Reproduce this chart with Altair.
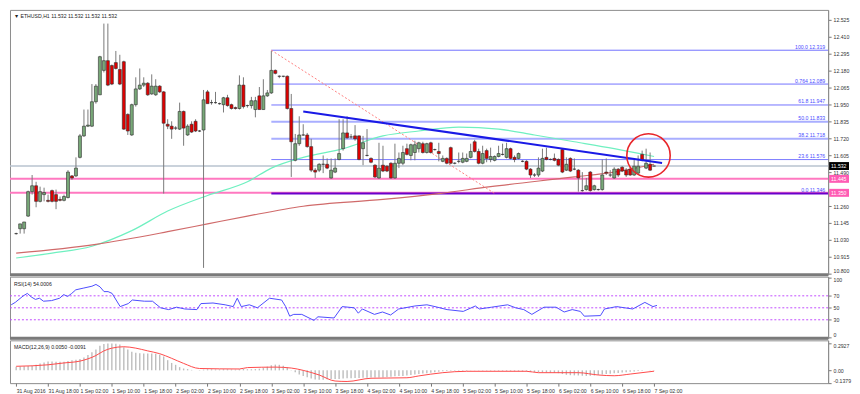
import altair as alt
import pandas as pd

# ---------------- data ----------------
opens = [11.073,11.106,11.106,11.192,11.358,11.398,11.292,11.338,11.299,11.365,
11.338,11.305,11.299,11.318,11.465,11.465,11.591,11.737,11.803,11.803,
11.969,12.016,12.182,12.248,12.215,12.235,12.188,12.241,11.883,11.743,
11.949,12.056,12.082,12.095,12.022,12.016,12.075,12.036,11.816,11.803,
11.790,11.783,11.903,11.743,11.816,11.836,11.770,11.777,12.036,11.963,
11.963,11.956,11.949,11.996,11.949,11.929,11.923,12.082,11.943,11.943,
11.916,12.009,11.916,12.009,12.029,12.182,12.142,12.142,12.142,11.923,
11.571,11.684,11.743,11.743,11.664,11.504,11.504,11.544,11.544,11.451,
11.491,11.577,11.650,11.757,11.730,11.737,11.737,11.650,11.604,11.584,
11.538,11.451,11.538,11.531,11.551,11.451,11.551,11.551,11.650,11.604,
11.624,11.650,11.684,11.624,11.690,11.644,11.631,11.564,11.584,11.657,
11.551,11.564,11.558,11.564,11.591,11.697,11.631,11.551,11.637,11.577,
11.571,11.597,11.611,11.591,11.650,11.591,11.584,11.564,11.564,11.511,
11.471,11.471,11.498,11.591,11.577,11.584,11.577,11.644,11.504,11.584,
11.511,11.504,11.365,11.372,11.491,11.372,11.372,11.372,11.491,11.471,
11.451,11.511,11.524,11.504,11.511,11.471,11.484,11.611,11.518,11.544,
11.532]
highs = [11.079,11.139,11.152,11.365,11.471,11.425,11.392,11.385,11.338,11.372,
11.372,11.325,11.338,11.504,11.471,11.591,11.750,11.916,11.916,12.089,
12.089,12.281,12.500,12.500,12.222,12.314,12.288,12.248,11.890,11.956,
12.135,12.195,12.135,12.102,12.155,12.122,12.082,12.042,11.850,11.836,
11.803,11.963,11.909,11.816,11.836,11.850,11.777,12.049,12.049,11.982,
12.036,11.963,12.002,12.016,11.956,11.936,12.148,12.135,11.949,12.002,
12.002,12.069,12.122,12.049,12.314,12.188,12.148,12.145,12.148,12.022,
11.750,11.870,11.816,11.757,11.717,11.518,11.551,11.604,11.584,11.584,
11.584,11.850,11.850,11.870,11.750,11.810,11.740,11.737,11.783,11.591,
11.544,11.690,11.670,11.538,11.558,11.684,11.624,11.670,11.684,11.684,
11.704,11.697,11.697,11.690,11.697,11.650,11.690,11.604,11.591,11.664,
11.558,11.624,11.624,11.617,11.684,11.710,11.650,11.670,11.650,11.657,
11.604,11.670,11.684,11.690,11.657,11.604,11.624,11.571,11.571,11.518,
11.484,11.591,11.650,11.657,11.584,11.617,11.584,11.650,11.591,11.591,
11.584,11.511,11.491,11.451,11.498,11.405,11.378,11.577,11.584,11.504,
11.524,11.518,11.531,11.518,11.524,11.584,11.604,11.637,11.650,11.624,
11.532]
lows = [11.066,11.073,11.073,11.186,11.338,11.252,11.285,11.292,11.285,11.285,
11.239,11.292,11.292,11.312,11.438,11.458,11.584,11.730,11.797,11.797,
11.956,12.016,12.168,12.075,12.082,12.188,12.082,11.777,11.743,11.737,
11.936,12.049,12.069,12.009,12.016,12.009,12.029,11.345,11.783,11.717,
11.777,11.777,11.670,11.737,11.757,11.763,11.763,10.840,11.956,11.949,
11.956,11.949,11.896,11.936,11.916,11.916,11.916,11.923,11.929,11.923,
11.863,11.916,11.916,12.002,12.022,12.155,12.129,12.135,11.916,11.458,
11.564,11.670,11.737,11.657,11.491,11.451,11.491,11.484,11.511,11.445,
11.484,11.571,11.637,11.717,11.717,11.704,11.571,11.538,11.597,11.551,
11.451,11.445,11.491,11.491,11.445,11.445,11.518,11.538,11.604,11.571,
11.571,11.624,11.617,11.617,11.617,11.637,11.564,11.558,11.544,11.544,
11.544,11.551,11.551,11.558,11.584,11.624,11.544,11.544,11.558,11.558,
11.564,11.591,11.604,11.584,11.577,11.558,11.577,11.558,11.504,11.451,
11.458,11.458,11.491,11.571,11.571,11.564,11.531,11.484,11.498,11.491,
11.504,11.358,11.358,11.365,11.358,11.365,11.365,11.365,11.471,11.458,
11.445,11.458,11.491,11.458,11.465,11.465,11.478,11.564,11.511,11.498,
11.532]
closes = [11.073,11.139,11.152,11.358,11.398,11.292,11.358,11.352,11.292,11.292,
11.292,11.299,11.325,11.491,11.451,11.518,11.737,11.803,11.810,11.969,
12.075,12.275,12.248,12.082,12.089,12.195,12.089,11.783,11.770,11.949,
12.056,12.082,12.095,12.016,12.075,12.075,12.036,11.823,11.803,11.783,
11.790,11.903,11.790,11.803,11.763,11.770,11.770,11.982,11.956,11.963,
11.963,11.956,11.996,11.943,11.923,11.923,12.082,11.936,11.943,11.976,
11.976,11.916,12.009,12.029,12.182,12.162,12.142,12.142,11.923,11.697,
11.684,11.743,11.743,11.664,11.504,11.491,11.544,11.544,11.518,11.504,
11.518,11.617,11.757,11.724,11.730,11.717,11.577,11.690,11.604,11.558,
11.458,11.518,11.498,11.498,11.451,11.551,11.584,11.624,11.611,11.677,
11.677,11.690,11.624,11.684,11.624,11.644,11.617,11.584,11.551,11.551,
11.551,11.564,11.584,11.584,11.631,11.631,11.551,11.617,11.584,11.597,
11.597,11.617,11.611,11.650,11.584,11.577,11.617,11.564,11.511,11.471,
11.471,11.518,11.584,11.577,11.577,11.571,11.538,11.491,11.544,11.498,
11.511,11.451,11.365,11.398,11.365,11.398,11.372,11.471,11.484,11.471,
11.511,11.471,11.498,11.471,11.471,11.531,11.531,11.571,11.551,11.504,
11.532]

ma_fast_idx = [0,9,19,29,38,48,58,64,72,82,92,101,111,121,130,140,150,160]
ma_fast_vals = [10.907,10.940,10.987,11.093,11.226,11.332,11.425,11.518,11.591,11.650,
                11.737,11.770,11.797,11.783,11.743,11.697,11.650,11.597]
ma_slow_idx = [0,20,38,48,58,72,92,106,119,140,150,160]
ma_slow_vals = [10.940,11.000,11.086,11.139,11.192,11.259,11.305,11.345,11.392,11.458,11.491,11.544]

fib_names = ["100.0", "0.764", "61.8", "50.0", "38.2", "23.6", "0.0"]
fib_prices = [12.319, 12.089, 11.947, 11.833, 11.718, 11.576, 11.346]
fib_colors = ["#7272ff", "#7272ff", "#7272ff", "#a9aeff", "#a9aeff", "#7a7aff", "#6a00cc"]
fib_widths = [1, 1, 1, 2, 2, 1, 2]
fib_start = 64

price_now = 11.532
support_levels = [11.445, 11.350]

trend_idx = [72, 162]
trend_vals = [11.903, 11.553]
fibdiag_idx = [64, 120]
fibdiag_vals = [12.319, 11.346]
circle_idx = [158.6]
circle_vals = [11.604]

main_ticks = [12.525, 12.410, 12.295, 12.180, 12.065, 11.950, 11.835, 11.720,
              11.605, 11.490, 11.260, 11.145, 11.030, 10.915, 10.800]

rsi_idx = [0,1,3,4,5,6,7,8,10,12,13,14,15,16,18,20,21,22,23,24,25,26,27,29,30,33,35,37,39,41,
           43,46,47,50,53,55,56,57,59,61,64,67,68,69,70,72,75,76,80,82,85,86,87,90,92,94,96,100,
           103,105,108,112,115,116,119,123,125,127,129,132,135,137,139,141,142,146,147,150,152,154,
           157,159,160]
rsi_vals = [55,59,70,74,68,64,66,61,62,66,72,69,74,80,83,86,89,85,77,77,74,63,52,57,63,61,61,50,47,51,
            48,47,57,58,55,52,66,52,55,50,66,63,52,36,39,39,29,35,33,52,50,41,48,39,43,38,48,53,
            55,52,47,44,53,48,51,55,50,47,39,51,51,43,47,44,36,37,48,52,50,48,
            59,52,54]
rsi_levels = [70, 50, 30]
rsi_ticks = [0, 30, 50, 70, 100]

macd_hist = [
0.040,0.042,0.044,0.046,0.050,0.060,0.075,0.085,0.095,0.095,
0.093,0.092,0.094,0.100,0.108,0.115,0.122,0.140,0.165,0.195,
0.225,0.265,0.285,0.290,0.290,0.287,0.280,0.250,0.225,0.200,
0.190,0.185,0.183,0.183,0.182,0.180,0.170,0.150,0.110,0.080,
0.060,0.035,0.020,0.014,0.005,0.000,0.004,0.008,0.012,0.012,
0.010,0.010,0.012,0.012,0.010,0.008,0.012,0.016,0.012,0.012,
0.014,0.018,0.025,0.040,0.055,0.062,0.060,0.050,0.030,0.005,
-0.020,-0.045,-0.060,-0.075,-0.088,-0.098,-0.102,-0.100,-0.096,-0.094,
-0.094,-0.092,-0.088,-0.086,-0.084,-0.082,-0.082,-0.080,-0.080,-0.078,
-0.078,-0.078,-0.076,-0.072,-0.068,-0.064,-0.062,-0.060,-0.055,-0.050,
-0.045,-0.040,-0.035,-0.030,-0.025,-0.020,-0.015,-0.010,-0.006,-0.005,
-0.004,-0.004,-0.003,-0.003,-0.002,-0.002,-0.003,-0.004,-0.004,-0.005,
-0.005,-0.006,-0.006,-0.007,-0.008,-0.009,-0.010,-0.012,-0.014,-0.016,
-0.018,-0.020,-0.022,-0.024,-0.026,-0.028,-0.030,-0.040,-0.048,-0.052,
-0.054,-0.055,-0.058,-0.060,-0.058,-0.055,-0.050,-0.045,-0.040,-0.036,
-0.032,-0.028,-0.024,-0.020,-0.016,-0.012,-0.008,-0.004,0.000,0.003,
0.005]
sig_idx = [0,8,12,16,20,22,24,27,30,33,36,39,42,46,56,58,65,69,72,76,80,83,89,98,101,107,113,128,131,141,146,150,154,160]
sig_vals = [0.044,0.06,0.08,0.10,0.16,0.21,0.24,0.255,0.24,0.21,0.18,0.13,0.075,0.02,0.015,0.03,0.035,0.025,0.0,-0.05,
            -0.115,-0.12,-0.085,-0.08,-0.06,-0.025,-0.01,-0.01,-0.025,-0.025,-0.05,-0.058,-0.04,-0.009]
macd_ticks = [0.2927, 0, -0.1379]

x_label_idx = list(range(0, 161, 8))
x_labels = ["31 Aug 2016", "31 Aug 18:00", "1 Sep 02:00", "1 Sep 10:00", "1 Sep 18:00",
            "2 Sep 02:00", "2 Sep 10:00", "2 Sep 18:00", "3 Sep 02:00", "3 Sep 10:00",
            "3 Sep 18:00", "4 Sep 02:00", "4 Sep 10:00", "4 Sep 18:00", "5 Sep 02:00",
            "5 Sep 10:00", "5 Sep 18:00", "6 Sep 02:00", "6 Sep 10:00", "6 Sep 18:00", "7 Sep 02:00"]

main_title = "▼ ETHUSD,H1  11.532 11.532 11.532 11.532"
rsi_title = "RSI(14) 54.0006"
macd_title = "MACD(12,26,9) 0.0050 -0.0091"

# ---------------- layout ----------------
W = 822
H1, H2, H3 = 266, 62, 43
FONT = "Liberation Sans"
FS = 5.2
xs = alt.Scale(domain=[-0.3, 202.4], nice=False, zero=False)
ys_main = alt.Scale(domain=[10.794, 12.593], nice=False, zero=False)
ys_rsi = alt.Scale(domain=[-1, 102], nice=False, zero=False)
ys_macd = alt.Scale(domain=[-0.1379, 0.324], nice=False, zero=False)


def right_axis(values, **kw):
    return alt.Axis(orient="right", values=values, grid=False, title=None, tickSize=3,
                    labelPadding=2, labelFontSize=FS, labelFont=FONT, labelColor="#333333",
                    tickColor="#777777", domainColor="#8c8c8c", labelOverlap=False,
                    labelFlush=3, **kw)


AX_MAIN = right_axis(main_ticks, format=".3f")
AX_RSI = right_axis(rsi_ticks)
AX_MACD = right_axis(macd_ticks, labelExpr="datum.value == 0 ? '0.00' : toString(datum.value)")
labels_js = "[" + ",".join("'" + s + "'" for s in x_labels) + "]"
idx_js = "[" + ",".join(str(v) for v in x_label_idx) + "]"
AX_X = alt.Axis(values=x_label_idx, labelExpr=f"{labels_js}[indexof({idx_js}, datum.value)]",
                labelAlign="left", labelPadding=2, tickSize=3, grid=False, title=None,
                domain=False, labelFontSize=FS, labelFont=FONT, labelColor="#333333",
                tickColor="#777777", labelOverlap=False, labelFlush=False, labelBound=False)


def XI(field="i", axis=None):
    return alt.X(f"{field}:Q", scale=xs, axis=axis, title=None)


def YM(field, axis=AX_MAIN, scale=ys_main):
    return alt.Y(f"{field}:Q", scale=scale, axis=axis, title=None)


candles = pd.DataFrame({"i": range(len(opens)), "open": opens, "high": highs,
                        "low": lows, "close": closes})
candles["dir"] = ["up" if c >= o else "down" for o, c in zip(opens, closes)]

one = pd.DataFrame({"a": [0]})

hl = pd.DataFrame({"p": [price_now] + support_levels,
                   "kind": ["now"] + ["sup"] * len(support_levels)})
now_line = alt.Chart(hl[hl.kind == "now"]).mark_rule(color="#b9c3cf", strokeWidth=1.5).encode(
    y=YM("p"))
sup_lines = alt.Chart(hl[hl.kind == "sup"]).mark_rule(color="#ff78c0", strokeWidth=2).encode(
    y=YM("p"))

fib = pd.DataFrame({"name": fib_names, "p": fib_prices, "c": fib_colors, "w": fib_widths,
                    "i0": [fib_start] * len(fib_names)})
fib["label"] = [f"{n}  {p:.3f}" for n, p in zip(fib_names, fib_prices)]
fib_lines = alt.Chart(fib).mark_rule().encode(
    x=XI("i0"), x2=alt.value(W), y=YM("p"),
    color=alt.Color("c:N", scale=None, legend=None),
    strokeWidth=alt.StrokeWidth("w:Q", scale=None, legend=None))
fib_text = alt.Chart(fib).mark_text(align="right", baseline="bottom", dy=-0.5, fontSize=FS,
                                    font=FONT, color="#4c4cff").encode(
    x=alt.value(W - 3), y=YM("p"), text="label:N")

ma_fast = alt.Chart(pd.DataFrame({"i": ma_fast_idx, "p": ma_fast_vals})).mark_line(
    color="#6ff0c0", strokeWidth=1.2, interpolate="monotone").encode(x=XI(), y=YM("p"))
ma_slow = alt.Chart(pd.DataFrame({"i": ma_slow_idx, "p": ma_slow_vals})).mark_line(
    color="#d06a6a", strokeWidth=1.2, interpolate="monotone").encode(x=XI(), y=YM("p"))

fib_diag = alt.Chart(pd.DataFrame({"i": fibdiag_idx, "p": fibdiag_vals})).mark_line(
    color="#ff7f7f", strokeWidth=1, strokeDash=[2, 2]).encode(x=XI(), y=YM("p"))

wicks = alt.Chart(candles).mark_rule(color="#7a7a7a", strokeWidth=1).encode(
    x=XI(), y=YM("low"), y2=alt.Y2("high:Q"))
bodies = alt.Chart(candles).mark_bar(size=3, stroke="#2e2e2e", strokeWidth=0.6).encode(
    x=XI(), y=YM("open"), y2=alt.Y2("close:Q"),
    color=alt.Color("dir:N", scale=alt.Scale(domain=["up", "down"], range=["#78a878", "#e00000"]),
                    legend=None))

trend = alt.Chart(pd.DataFrame({"i": trend_idx, "p": trend_vals})).mark_line(
    color="#1a1ae6", strokeWidth=2).encode(x=XI(), y=YM("p"))

circle = alt.Chart(pd.DataFrame({"i": circle_idx, "p": circle_vals})).mark_point(
    shape="circle", size=1900, filled=False, color="#e8262a", strokeWidth=1.6, opacity=1).encode(
    x=XI(), y=YM("p"))

title_main = alt.Chart(one).mark_text(align="left", baseline="middle", fontSize=FS, font=FONT,
                                      color="#222222").encode(
    x=alt.value(4), y=alt.value(6), text=alt.value(main_title))

box_df = pd.DataFrame({"p": [price_now] + support_levels,
                       "fill": ["#000000", "#ff5cb4", "#ff5cb4"],
                       "t": [f"{price_now:.3f}"] + [f"{v:.3f}" for v in support_levels]})
boxes = alt.Chart(box_df).mark_point(shape="M-1,-0.4L1,-0.4L1,0.4L-1,0.4Z", size=400,
                                     filled=True, opacity=1).encode(
    x=alt.value(W + 11), y=YM("p"), color=alt.Color("fill:N", scale=None, legend=None))
box_text = alt.Chart(box_df).mark_text(align="left", baseline="middle", fontSize=FS, font=FONT,
                                       color="white").encode(
    x=alt.value(W + 3), y=YM("p"), text="t:N")

sep1 = alt.Chart(one).mark_rule(color="#7a7a7a", strokeWidth=3).encode(
    x=alt.value(0), x2=alt.value(W), y=alt.value(H1))

main = alt.layer(sup_lines, now_line, fib_lines, fib_text, ma_fast, ma_slow, fib_diag,
                 wicks, bodies, trend, circle, title_main, sep1, boxes, box_text).properties(
    width=W, height=H1)

# ---------------- RSI ----------------
rsi_df = pd.DataFrame({"i": rsi_idx, "v": rsi_vals})
rsi_line = alt.Chart(rsi_df).mark_line(color="#4d4dff", strokeWidth=1).encode(
    x=XI(), y=YM("v", axis=AX_RSI, scale=ys_rsi))
rsi_lv = alt.Chart(pd.DataFrame({"v": rsi_levels})).mark_rule(
    color="#c24dff", strokeWidth=1, strokeDash=[2, 2]).encode(y=YM("v", axis=AX_RSI, scale=ys_rsi))
rsi_t = alt.Chart(one).mark_text(align="left", baseline="middle", fontSize=FS, font=FONT,
                                 color="#222222").encode(
    x=alt.value(4), y=alt.value(7), text=alt.value(rsi_title))
sep2 = alt.Chart(one).mark_rule(color="#7a7a7a", strokeWidth=3).encode(
    x=alt.value(0), x2=alt.value(W), y=alt.value(H2))
rsi = alt.layer(rsi_lv, rsi_line, rsi_t, sep2).properties(width=W, height=H2)

# ---------------- MACD ----------------
hist_df = pd.DataFrame({"i": range(len(macd_hist)), "v": macd_hist})
hist = alt.Chart(hist_df).mark_bar(size=1.4, color="#bdbdbd").encode(
    x=XI(axis=AX_X), y=YM("v", axis=AX_MACD, scale=ys_macd))
sig = alt.Chart(pd.DataFrame({"i": sig_idx, "v": sig_vals})).mark_line(
    color="#ff4a4a", strokeWidth=1, interpolate="monotone").encode(
    x=XI(axis=AX_X), y=YM("v", axis=AX_MACD, scale=ys_macd))
macd_t = alt.Chart(one).mark_text(align="left", baseline="middle", fontSize=FS, font=FONT,
                                  color="#222222").encode(
    x=alt.value(4), y=alt.value(7), text=alt.value(macd_title))
macd = alt.layer(hist, sig, macd_t).properties(width=W, height=H3)

chart = alt.vconcat(main, rsi, macd, spacing=2, bounds="flush").properties(
    padding={"left": 0, "top": 0, "right": 0, "bottom": 0},
    background="white"
).configure_view(stroke="#8c8c8c", strokeWidth=1)

chart.save("out.html", embed_options={"renderer": "svg", "actions": False})
